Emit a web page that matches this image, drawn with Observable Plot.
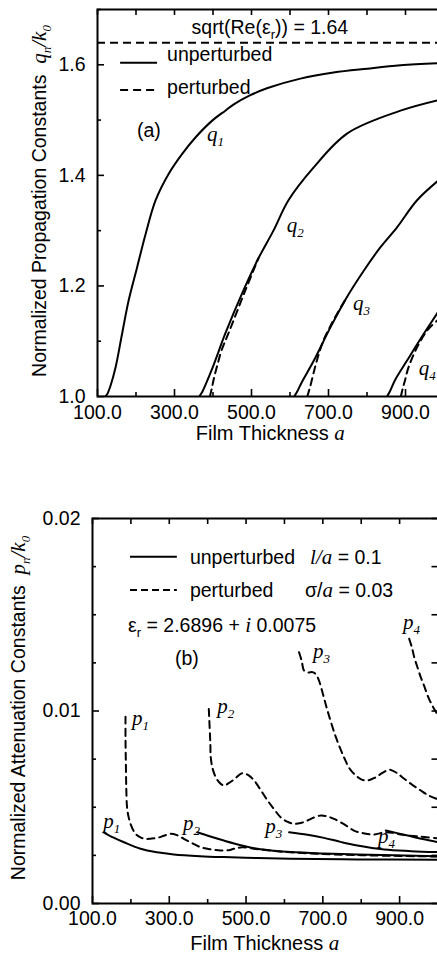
<!DOCTYPE html>
<html><head><meta charset="utf-8">
<script src="https://cdn.jsdelivr.net/npm/d3@7"></script>
<script src="https://cdn.jsdelivr.net/npm/@observablehq/plot@0.6"></script>
<style>
html,body{margin:0;padding:0;background:#fff;}
#wrap{width:437px;height:955px;overflow:hidden;position:relative;background:#fff;}
#wrap svg{display:block;}
</style></head><body><div id="wrap"></div>
<script>
// ---------- data: (a) propagation constants q_n/k0 vs film thickness ----------
const sqrtReEps = 1.64;
const q1Unperturbed = [[120,1.0],[125,1.004],[134,1.02],[147,1.053],[164,1.114],[181,1.174],[203,1.234],[225,1.294],[251,1.355],[285,1.403],[320,1.439],[355,1.469],[398,1.499],[432,1.517],[453,1.528],[497,1.545],[542,1.558],[627,1.575],[713,1.586],[801,1.593],[887,1.599],[991,1.603]];
const q2Unperturbed = [[364,1.0],[372,1.008],[381,1.022],[401,1.056],[432,1.114],[479,1.192],[518,1.25],[557,1.30],[596,1.355],[661,1.414],[749,1.476],[887,1.517],[991,1.537]];
const q3Unperturbed = [[611,1.0],[618,1.008],[630,1.025],[662,1.065],[705,1.125],[748,1.18],[792,1.228],[835,1.27],[878,1.306],[930,1.355],[991,1.394]];
const q4Unperturbed = [[852,1.0],[860,1.01],[873,1.03],[904,1.065],[947,1.113],[982,1.15],[991,1.16]];
const q2Perturbed = [[392,1.0],[397,1.015],[403,1.035],[411,1.056],[422,1.083],[440,1.114],[484,1.192],[518,1.25]];
const q3Perturbed = [[645,1.0],[650,1.012],[655,1.025],[664,1.05],[674,1.075],[686,1.1],[701,1.122],[716,1.142],[748,1.18]];
const q4Perturbed = [[888,1.0],[893,1.015],[899,1.03],[908,1.053],[930,1.089],[956,1.119],[982,1.137],[991,1.142]];
const thicknessTicks = [100,200,300,400,500,600,700,800,900,1000];
const thicknessLabels = [100,300,500,700,900];
const qTicks = [1.0,1.1,1.2,1.3,1.4,1.5,1.6,1.7];
const qLabels = [1.0,1.2,1.4,1.6];

// ---------- data: (b) attenuation constants p_n/k0 vs film thickness ----------
const p1Unperturbed = [[129,0.0037],[155,0.00342],[182,0.00318],[225,0.00284],[268,0.00266],[312,0.00255],[380,0.00246],[442,0.00241],[530,0.00236],[616,0.00232],[790,0.00229],[999,0.00227]];
const p2Unperturbed = [[373,0.0037],[405,0.00349],[442,0.00327],[486,0.00303],[530,0.00284],[573,0.00274],[616,0.00267],[700,0.0026],[790,0.00255],[999,0.00246]];
const p3Unperturbed = [[612,0.0037],[660,0.00357],[703,0.00341],[746,0.0032],[790,0.00301],[860,0.0028],[930,0.00272],[999,0.00267]];
const p4Unperturbed = [[864,0.00379],[921,0.00353],[960,0.00335],[999,0.00319]];
const p1Perturbed = [[186,0.0097],[186,0.0085],[187,0.0072],[188,0.006],[190,0.005],[194,0.0045],[199,0.00414],[212,0.00362],[225,0.00343],[238,0.00336],[252,0.00337],[269,0.00341],[286,0.00352],[303,0.00362],[320,0.00355],[338,0.00336],[360,0.00313],[382,0.00292],[408,0.00281],[434,0.00275],[455,0.00277],[468,0.00284],[490,0.00292],[530,0.00282],[600,0.00268],[700,0.00257],[800,0.00251],[900,0.00247],[999,0.00244]];
const p2Perturbed = [[403,0.0101],[405,0.0092],[407,0.0083],[408,0.0076],[413,0.007],[421,0.00656],[430,0.0063],[442,0.00613],[455,0.00625],[468,0.00643],[490,0.00677],[505,0.00668],[521,0.00639],[538,0.0059],[556,0.00535],[573,0.0049],[590,0.00448],[607,0.00425],[625,0.00414],[642,0.00418],[660,0.00431],[677,0.00447],[695,0.00457],[712,0.00452],[729,0.0044],[755,0.00412],[781,0.00379],[808,0.00364],[834,0.00358],[860,0.0037],[880,0.00368],[903,0.00358],[950,0.00348],[999,0.00339]];
const p3Perturbed = [[638,0.01305],[645,0.0126],[651,0.0121],[662,0.012],[673,0.01202],[682,0.0119],[690,0.01158],[700,0.0109],[712,0.01003],[734,0.00864],[755,0.0076],[770,0.007],[786,0.00665],[800,0.00645],[816,0.00639],[834,0.00652],[851,0.00673],[866,0.0069],[877,0.00694],[895,0.00675],[912,0.00648],[934,0.00615],[955,0.00587],[975,0.00562],[999,0.00542]];
const p4Perturbed = [[925,0.01375],[932,0.0133],[938,0.0128],[946,0.0123],[955,0.01176],[964,0.0113],[973,0.0108],[982,0.0104],[990,0.01011],[999,0.0098]];
const pTicks = [0,0.0025,0.005,0.0075,0.01,0.0125,0.015,0.0175,0.02];
const pLabels = [0,0.01,0.02];

// ---------- styling helpers ----------
const SANS = "'Liberation Sans', Arial, Helvetica, sans-serif";
const SERIF = "'Liberation Serif', 'Times New Roman', serif";
const isIn = (labels) => (d) => labels.some(v => Math.abs(v - d) < 1e-9);

// inward-pointing tick marks on all four sides of the frame
function frameTicks(xt, xl, yt, yl, W, H) {
  const xMaj = xt.filter(isIn(xl)), xMin = xt.filter(d => !isIn(xl)(d));
  const yMaj = yt.filter(isIn(yl)), yMin = yt.filter(d => !isIn(yl)(d));
  const s = {stroke: "black", strokeWidth: 1.6};
  return [
    Plot.tickX(xMaj, {...s, x: d => d, insetTop: H - 7}),
    Plot.tickX(xMin, {...s, x: d => d, insetTop: H - 4}),
    Plot.tickX(xt, {...s, x: d => d, insetBottom: H - 6}),
    Plot.tickY(yMaj, {...s, y: d => d, insetRight: W - 7}),
    Plot.tickY(yMin, {...s, y: d => d, insetRight: W - 4}),
    Plot.tickY(yt, {...s, y: d => d, insetLeft: W - 6})
  ];
}
const lineOpts = (dashed) => ({x: d => d[0], y: d => d[1], stroke: "black", strokeWidth: 2, curve: "catmull-rom", clip: true, strokeDasharray: dashed ? "7,5" : null});

function rich(g, x, y, parts, opts = {}) {
  const t = g.append("text").attr("x", x).attr("y", y)
    .attr("text-anchor", opts.anchor || "start").attr("fill", "black")
    .style("font-family", SANS).style("font-size", (opts.size || 19) + "px");
  if (opts.transform) t.attr("transform", opts.transform);
  let shift = 0;
  for (const p of parts) {
    const s = t.append("tspan").text(p.t);
    const target = p.sub ? 5 : 0;
    if (target !== shift) { s.attr("dy", target - shift); shift = target; }
    if (p.i) s.style("font-family", SERIF).style("font-style", "italic").style("font-size", (opts.isize || 21) + "px");
    if (p.sub) s.style("font-size", "13px");
  }
  return t;
}
function legendLine(g, sx, sy, x1, x2, y, dash) {
  g.append("line").attr("x1", sx.apply(x1)).attr("x2", sx.apply(x2))
    .attr("y1", sy.apply(y)).attr("y2", sy.apply(y))
    .attr("stroke", "black").attr("stroke-width", 2)
    .attr("stroke-dasharray", dash);
}
const plotStyle = {fontFamily: SANS, fontSize: "19.5px", color: "black", background: "white", maxWidth: "none", overflow: "visible"};

// ---------- panel (a) ----------
const A = {width: 447, height: 452, left: 97, right: 3.5, top: 9, bottom: 56};
const AW = A.width - A.left - A.right, AH = A.height - A.top - A.bottom;
const plotA = Plot.plot({
  width: A.width, height: A.height, marginLeft: A.left, marginRight: A.right, marginTop: A.top, marginBottom: A.bottom,
  style: plotStyle,
  x: {domain: [100, 1000]}, y: {domain: [1.0, 1.7]},
  marks: [
    Plot.ruleY([sqrtReEps], {stroke: "black", strokeWidth: 2, strokeDasharray: "8,5"}),
    Plot.line(q1Unperturbed, lineOpts(false)),
    Plot.line(q2Unperturbed, lineOpts(false)),
    Plot.line(q3Unperturbed, lineOpts(false)),
    Plot.line(q4Unperturbed, lineOpts(false)),
    Plot.line(q2Perturbed, lineOpts(true)),
    Plot.line(q3Perturbed, lineOpts(true)),
    Plot.line(q4Perturbed, lineOpts(true)),
    Plot.frame({stroke: "black", strokeWidth: 2}),
    ...frameTicks(thicknessTicks, thicknessLabels, qTicks, qLabels, AW, AH),
    Plot.axisX({ticks: thicknessLabels, tickSize: 0, tickPadding: 9, tickFormat: d => d.toFixed(1), label: null}),
    Plot.axisY({ticks: qLabels, tickSize: 0, tickPadding: 12, tickFormat: d => d.toFixed(1), label: null})
  ]
});
{
  const g = d3.select(plotA).append("g");
  const sx = plotA.scale("x"), sy = plotA.scale("y");
  const [r0, r1] = sx.range;
  const notes = [
    {x: 549, y: 1.654, anchor: "middle", parts: [{t: "sqrt(Re(ε"}, {t: "r", sub: 1}, {t: ")) = 1.64"}]},
    {x: 282, y: 1.6064, parts: [{t: "unperturbed"}]},
    {x: 282, y: 1.5458, parts: [{t: "perturbed"}]},
    {x: 204, y: 1.4685, parts: [{t: "(a)"}]},
    {x: 386, y: 1.4613, parts: [{t: "q", i: 1}, {t: "1", i: 1, sub: 1}]},
    {x: 593, y: 1.2972, parts: [{t: "q", i: 1}, {t: "2", i: 1, sub: 1}]},
    {x: 765, y: 1.1556, parts: [{t: "q", i: 1}, {t: "3", i: 1, sub: 1}]},
    {x: 936, y: 1.038, parts: [{t: "q", i: 1}, {t: "4", i: 1, sub: 1}]}
  ];
  for (const n of notes) rich(g, sx.apply(n.x), sy.apply(n.y), n.parts, {anchor: n.anchor, size: 19.5});
  legendLine(g, sx, sy, 160, 256, 1.6029, null);
  legendLine(g, sx, sy, 160, 256, 1.5535, "8,5");
  rich(g, (r0 + r1) / 2, 440, [{t: "Film Thickness "}, {t: "a", i: 1}], {anchor: "middle", size: 20});
  rich(g, 0, 0, [{t: "Normalized Propagation Constants  "}, {t: "q", i: 1}, {t: "n", i: 1, sub: 1}, {t: "/", i: 1}, {t: "k", i: 1}, {t: "0", i: 1, sub: 1}],
    {anchor: "middle", transform: "translate(46,201) rotate(-90)", size: 19.5, isize: 21});
}

// ---------- panel (b) ----------
const B = {width: 441, height: 503, left: 92, right: 3.5, top: 66, bottom: 52};
const BW = B.width - B.left - B.right, BH = B.height - B.top - B.bottom;
const plotB = Plot.plot({
  width: B.width, height: B.height, marginLeft: B.left, marginRight: B.right, marginTop: B.top, marginBottom: B.bottom,
  style: plotStyle,
  x: {domain: [100, 1000]}, y: {domain: [0, 0.02]},
  marks: [
    Plot.line(p1Unperturbed, lineOpts(false)),
    Plot.line(p2Unperturbed, lineOpts(false)),
    Plot.line(p3Unperturbed, lineOpts(false)),
    Plot.line(p4Unperturbed, lineOpts(false)),
    Plot.line(p1Perturbed, lineOpts(true)),
    Plot.line(p2Perturbed, lineOpts(true)),
    Plot.line(p3Perturbed, lineOpts(true)),
    Plot.line(p4Perturbed, lineOpts(true)),
    Plot.frame({stroke: "black", strokeWidth: 2}),
    ...frameTicks(thicknessTicks, thicknessLabels, pTicks, pLabels, BW, BH),
    Plot.axisX({ticks: thicknessLabels, tickSize: 0, tickPadding: 8, tickFormat: d => d.toFixed(1), label: null}),
    Plot.axisY({ticks: pLabels, tickSize: 0, tickPadding: 12, tickFormat: d => d.toFixed(2), label: null})
  ]
});
{
  const g = d3.select(plotB).append("g");
  const sx = plotB.scale("x"), sy = plotB.scale("y");
  const [r0, r1] = sx.range;
  const notes = [
    {x: 355, y: 0.01761, parts: [{t: "unperturbed"}]},
    {x: 668, y: 0.01761, parts: [{t: "l/a", i: 1}, {t: " = 0.1"}]},
    {x: 355, y: 0.01591, parts: [{t: "perturbed"}]},
    {x: 655, y: 0.01591, parts: [{t: "σ/"}, {t: "a", i: 1}, {t: " = 0.03"}]},
    {x: 194, y: 0.01409, parts: [{t: "ε"}, {t: "r", sub: 1}, {t: " = 2.6896 + "}, {t: "i", i: 1}, {t: " 0.0075"}]},
    {x: 316, y: 0.01236, parts: [{t: "(b)"}]},
    {x: 204, y: 0.00925, parts: [{t: "p", i: 1}, {t: "1", i: 1, sub: 1}]},
    {x: 426, y: 0.00987, parts: [{t: "p", i: 1}, {t: "2", i: 1, sub: 1}]},
    {x: 676, y: 0.01273, parts: [{t: "p", i: 1}, {t: "3", i: 1, sub: 1}]},
    {x: 910, y: 0.01423, parts: [{t: "p", i: 1}, {t: "4", i: 1, sub: 1}]},
    {x: 129, y: 0.0039, parts: [{t: "p", i: 1}, {t: "1", i: 1, sub: 1}]},
    {x: 337, y: 0.00379, parts: [{t: "p", i: 1}, {t: "2", i: 1, sub: 1}]},
    {x: 551, y: 0.00364, parts: [{t: "p", i: 1}, {t: "3", i: 1, sub: 1}]},
    {x: 845, y: 0.00312, parts: [{t: "p", i: 1}, {t: "4", i: 1, sub: 1}]}
  ];
  for (const n of notes) rich(g, sx.apply(n.x), sy.apply(n.y), n.parts, {anchor: n.anchor, size: 19.5});
  legendLine(g, sx, sy, 199, 321, 0.01799, null);
  legendLine(g, sx, sy, 199, 321, 0.01626, "7,4");
  rich(g, (r0 + r1) / 2, 498, [{t: "Film Thickness "}, {t: "a", i: 1}], {anchor: "middle", size: 20});
  rich(g, 0, 0, [{t: "Normalized Attenuation Constants  "}, {t: "p", i: 1}, {t: "n", i: 1, sub: 1}, {t: "/", i: 1}, {t: "k", i: 1}, {t: "0", i: 1, sub: 1}],
    {anchor: "middle", transform: "translate(25,256) rotate(-90)", size: 19.5, isize: 21});
}

const wrap = document.getElementById("wrap");
wrap.appendChild(plotA);
wrap.appendChild(plotB);
</script>
</body></html>
